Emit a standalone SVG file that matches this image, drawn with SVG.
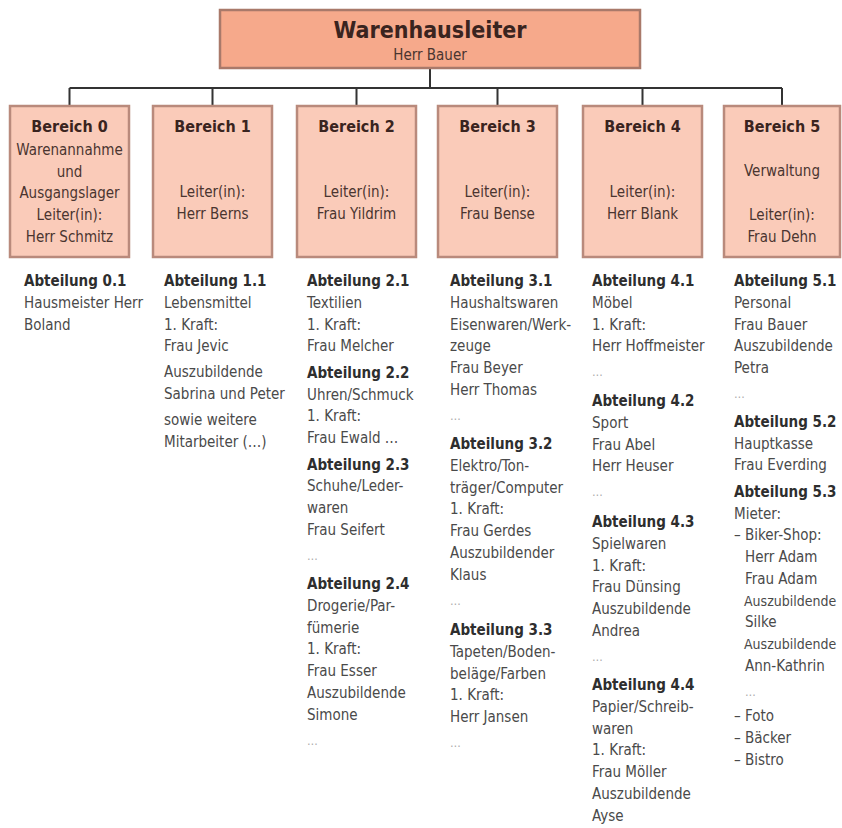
<svg xmlns="http://www.w3.org/2000/svg" width="842" height="828" viewBox="0 0 842 828">
<style>
.t{font-family:"Liberation Sans Narrow","Arial Narrow","DejaVu Sans Condensed","Liberation Sans",sans-serif;}
.top{fill:#F6A98B;stroke:#A9796A;stroke-width:2.5;}
.box{fill:#FACBB9;stroke:#B98A7C;stroke-width:2.5;}
.title{font-size:23px;font-weight:bold;fill:#3a2420;text-anchor:middle;}
.sub{font-size:15px;fill:#4a3530;text-anchor:middle;}
.bh{font-size:16px;font-weight:bold;fill:#3a2420;text-anchor:middle;}
.bt{font-size:15px;fill:#4a3530;text-anchor:middle;}
.h{font-size:15px;font-weight:bold;fill:#2e2e2e;}
.b{font-size:15px;fill:#4a4a4a;}
.s{font-size:14px;}
.d{font-size:12px;fill:#aaaaaa;}
.con{stroke:#333;stroke-width:2;fill:none;}
</style>
<rect width="842" height="828" fill="#ffffff"/>
<g id="connectors">
<path class="con" d="M430 68V88M69.5 88H782M69.5 88V106M212.5 88V106M356.5 88V106M497.5 88V106M642.5 88V106M782 88V106"/>
</g>
<g id="warenhausleiter" class="t">
<rect class="top" x="220" y="10" width="420" height="58"/>
<text class="title" x="430" y="38">Warenhausleiter</text>
<text class="sub" x="430" y="60">Herr Bauer</text>
</g>
<g id="bereich0" class="t">
<rect class="box" x="10" y="106" width="119" height="151"/>
<text class="bh" x="69.5" y="132">Bereich 0</text>
<text class="bt" x="69.5" y="155">Warenannahme</text>
<text class="bt" x="69.5" y="177">und</text>
<text class="bt" x="69.5" y="198">Ausgangslager</text>
<text class="bt" x="69.5" y="220">Leiter(in):</text>
<text class="bt" x="69.5" y="242">Herr Schmitz</text>
</g>
<g id="bereich1" class="t">
<rect class="box" x="153" y="106" width="119" height="151"/>
<text class="bh" x="212.5" y="132">Bereich 1</text>
<text class="bt" x="212.5" y="197">Leiter(in):</text>
<text class="bt" x="212.5" y="219">Herr Berns</text>
</g>
<g id="bereich2" class="t">
<rect class="box" x="297" y="106" width="119" height="151"/>
<text class="bh" x="356.5" y="132">Bereich 2</text>
<text class="bt" x="356.5" y="197">Leiter(in):</text>
<text class="bt" x="356.5" y="219">Frau Yildrim</text>
</g>
<g id="bereich3" class="t">
<rect class="box" x="438" y="106" width="119" height="151"/>
<text class="bh" x="497.5" y="132">Bereich 3</text>
<text class="bt" x="497.5" y="197">Leiter(in):</text>
<text class="bt" x="497.5" y="219">Frau Bense</text>
</g>
<g id="bereich4" class="t">
<rect class="box" x="583" y="106" width="119" height="151"/>
<text class="bh" x="642.5" y="132">Bereich 4</text>
<text class="bt" x="642.5" y="197">Leiter(in):</text>
<text class="bt" x="642.5" y="219">Herr Blank</text>
</g>
<g id="bereich5" class="t">
<rect class="box" x="724" y="106" width="116" height="151"/>
<text class="bh" x="782" y="132">Bereich 5</text>
<text class="bt" x="782" y="176">Verwaltung</text>
<text class="bt" x="782" y="220">Leiter(in):</text>
<text class="bt" x="782" y="242">Frau Dehn</text>
</g>
<g id="abteilungen0" class="t">
<text class="h" x="24" y="286">Abteilung 0.1</text>
<text class="b" x="24" y="308">Hausmeister Herr</text>
<text class="b" x="24" y="330">Boland</text>
</g>
<g id="abteilungen1" class="t">
<text class="h" x="164" y="286">Abteilung 1.1</text>
<text class="b" x="164" y="308">Lebensmittel</text>
<text class="b" x="164" y="330">1. Kraft:</text>
<text class="b" x="164" y="351">Frau Jevic</text>
<text class="b" x="164" y="377">Auszubildende</text>
<text class="b" x="164" y="399">Sabrina und Peter</text>
<text class="b" x="164" y="425">sowie weitere</text>
<text class="b" x="164" y="447">Mitarbeiter (…)</text>
</g>
<g id="abteilungen2" class="t">
<text class="h" x="307" y="286">Abteilung 2.1</text>
<text class="b" x="307" y="308">Textilien</text>
<text class="b" x="307" y="330">1. Kraft:</text>
<text class="b" x="307" y="351">Frau Melcher</text>
<text class="h" x="307" y="378">Abteilung 2.2</text>
<text class="b" x="307" y="400">Uhren/Schmuck</text>
<text class="b" x="307" y="421">1. Kraft:</text>
<text class="b" x="307" y="443">Frau Ewald …</text>
<text class="h" x="307" y="470">Abteilung 2.3</text>
<text class="b" x="307" y="491">Schuhe/Leder-</text>
<text class="b" x="307" y="513">waren</text>
<text class="b" x="307" y="535">Frau Seifert</text>
<text class="d" x="307" y="560">…</text>
<text class="h" x="307" y="589">Abteilung 2.4</text>
<text class="b" x="307" y="611">Drogerie/Par-</text>
<text class="b" x="307" y="633">fümerie</text>
<text class="b" x="307" y="654">1. Kraft:</text>
<text class="b" x="307" y="676">Frau Esser</text>
<text class="b" x="307" y="698">Auszubildende</text>
<text class="b" x="307" y="720">Simone</text>
<text class="d" x="307" y="745">…</text>
</g>
<g id="abteilungen3" class="t">
<text class="h" x="450" y="286">Abteilung 3.1</text>
<text class="b" x="450" y="308">Haushaltswaren</text>
<text class="b" x="450" y="330">Eisenwaren/Werk-</text>
<text class="b" x="450" y="351">zeuge</text>
<text class="b" x="450" y="373">Frau Beyer</text>
<text class="b" x="450" y="395">Herr Thomas</text>
<text class="d" x="450" y="420">…</text>
<text class="h" x="450" y="449">Abteilung 3.2</text>
<text class="b" x="450" y="471">Elektro/Ton-</text>
<text class="b" x="450" y="493">träger/Computer</text>
<text class="b" x="450" y="514">1. Kraft:</text>
<text class="b" x="450" y="536">Frau Gerdes</text>
<text class="b" x="450" y="558">Auszubildender</text>
<text class="b" x="450" y="580">Klaus</text>
<text class="d" x="450" y="605">…</text>
<text class="h" x="450" y="635">Abteilung 3.3</text>
<text class="b" x="450" y="657">Tapeten/Boden-</text>
<text class="b" x="450" y="679">beläge/Farben</text>
<text class="b" x="450" y="700">1. Kraft:</text>
<text class="b" x="450" y="722">Herr Jansen</text>
<text class="d" x="450" y="747">…</text>
</g>
<g id="abteilungen4" class="t">
<text class="h" x="592" y="286">Abteilung 4.1</text>
<text class="b" x="592" y="308">Möbel</text>
<text class="b" x="592" y="330">1. Kraft:</text>
<text class="b" x="592" y="351">Herr Hoffmeister</text>
<text class="d" x="592" y="376">…</text>
<text class="h" x="592" y="406">Abteilung 4.2</text>
<text class="b" x="592" y="428">Sport</text>
<text class="b" x="592" y="450">Frau Abel</text>
<text class="b" x="592" y="471">Herr Heuser</text>
<text class="d" x="592" y="496">…</text>
<text class="h" x="592" y="527">Abteilung 4.3</text>
<text class="b" x="592" y="549">Spielwaren</text>
<text class="b" x="592" y="571">1. Kraft:</text>
<text class="b" x="592" y="592">Frau Dünsing</text>
<text class="b" x="592" y="614">Auszubildende</text>
<text class="b" x="592" y="636">Andrea</text>
<text class="d" x="592" y="661">…</text>
<text class="h" x="592" y="690">Abteilung 4.4</text>
<text class="b" x="592" y="712">Papier/Schreib-</text>
<text class="b" x="592" y="734">waren</text>
<text class="b" x="592" y="755">1. Kraft:</text>
<text class="b" x="592" y="777">Frau Möller</text>
<text class="b" x="592" y="799">Auszubildende</text>
<text class="b" x="592" y="821">Ayse</text>
</g>
<g id="abteilungen5" class="t">
<text class="h" x="734" y="286">Abteilung 5.1</text>
<text class="b" x="734" y="308">Personal</text>
<text class="b" x="734" y="330">Frau Bauer</text>
<text class="b" x="734" y="351">Auszubildende</text>
<text class="b" x="734" y="373">Petra</text>
<text class="d" x="734" y="398">…</text>
<text class="h" x="734" y="427">Abteilung 5.2</text>
<text class="b" x="734" y="449">Hauptkasse</text>
<text class="b" x="734" y="470">Frau Everding</text>
<text class="h" x="734" y="497">Abteilung 5.3</text>
<text class="b" x="734" y="519">Mieter:</text>
<text class="b" x="734" y="540">– Biker-Shop:</text>
<text class="b" x="745" y="562">Herr Adam</text>
<text class="b" x="745" y="584">Frau Adam</text>
<text class="b s" x="744" y="606">Auszubildende</text>
<text class="b" x="745" y="627">Silke</text>
<text class="b s" x="744" y="649">Auszubildende</text>
<text class="b" x="745" y="671">Ann-Kathrin</text>
<text class="d" x="745" y="696">…</text>
<text class="b" x="734" y="721">– Foto</text>
<text class="b" x="734" y="743">– Bäcker</text>
<text class="b" x="734" y="765">– Bistro</text>
</g>
</svg>
